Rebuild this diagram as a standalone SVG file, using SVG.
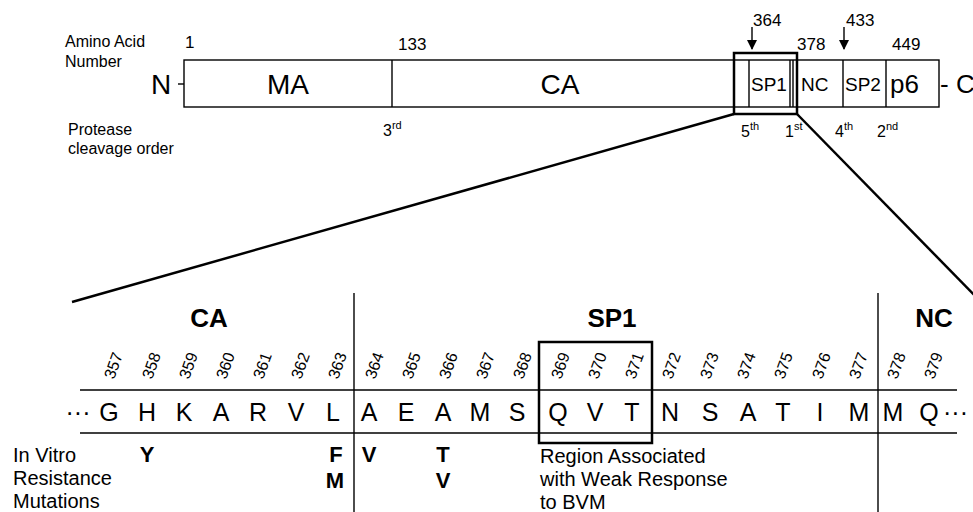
<svg xmlns="http://www.w3.org/2000/svg" width="973" height="512" viewBox="0 0 973 512">
<style>
text{font-family:"Liberation Sans",Arial,sans-serif;fill:#000}
.lbl{font-size:16px}
.big{font-size:28px}
.dom{font-size:19px}
.num{font-size:17px}
.ord{font-size:16px}
.sup{font-size:11px}
.seq{font-size:25px;text-anchor:middle}
.rn{font-size:16px}
.mut{font-size:22px;font-weight:bold;text-anchor:middle}
.hd{font-size:26px;font-weight:bold;text-anchor:middle}
.note{font-size:20px}
.ln{stroke:#000;stroke-width:1.4;fill:none}
.thick{stroke:#000;stroke-width:2.5;fill:none}
</style>
<defs>
<marker id="ah" viewBox="0 0 10 10" refX="9" refY="5" markerWidth="10" markerHeight="10" orient="auto" markerUnits="userSpaceOnUse"><path d="M0,0 L10,5 L0,10 z" fill="#000"/></marker>
</defs>
<rect width="973" height="512" fill="#fff"/>

<g id="labels-top">
<text class="lbl" x="65" y="47">Amino Acid</text>
<text class="lbl" x="65" y="67">Number</text>
<text class="lbl" x="68" y="135">Protease</text>
<text class="lbl" x="68" y="154">cleavage order</text>
</g>

<g id="gag-bar">
<rect class="ln" x="184" y="60" width="755" height="47"/>
<line class="ln" x1="392" y1="60" x2="392" y2="107"/>
<line class="ln" x1="749" y1="60" x2="749" y2="107"/>
<line class="ln" x1="790" y1="60" x2="790" y2="107"/>
<line class="ln" x1="793" y1="60" x2="793" y2="107"/>
<line class="ln" x1="843" y1="60" x2="843" y2="107"/>
<line class="ln" x1="886" y1="60" x2="886" y2="107"/>
<rect class="thick" x="734" y="53" width="63" height="61"/>
<text class="big" x="151" y="94">N</text>
<line class="ln" x1="178" y1="84" x2="184" y2="84"/>
<text class="big" x="288" y="94" text-anchor="middle">MA</text>
<text class="big" x="560" y="94" text-anchor="middle">CA</text>
<text class="dom" x="751" y="91">SP1</text>
<text class="dom" x="801" y="91">NC</text>
<text class="dom" x="845" y="91">SP2</text>
<text class="big" x="890" y="93" style="font-size:26px">p6</text>
<text class="big" x="940" y="93" style="font-size:26px">- C</text>
</g>

<g id="numbers-top">
<text class="num" x="185" y="48">1</text>
<text class="num" x="398" y="50">133</text>
<text class="num" x="753" y="26">364</text>
<text class="num" x="797" y="50">378</text>
<text class="num" x="846" y="26">433</text>
<text class="num" x="892" y="50">449</text>
<line class="ln" x1="752" y1="27" x2="752" y2="49" marker-end="url(#ah)"/>
<line class="ln" x1="844" y1="27" x2="844" y2="49" marker-end="url(#ah)"/>
</g>

<g id="cleavage-order" class="ord">
<text x="383" y="136">3<tspan class="sup" dy="-7">rd</tspan></text>
<text x="741" y="137">5<tspan class="sup" dy="-7">th</tspan></text>
<text x="785" y="137">1<tspan class="sup" dy="-7">st</tspan></text>
<text x="835" y="137">4<tspan class="sup" dy="-7">th</tspan></text>
<text x="877" y="137">2<tspan class="sup" dy="-7">nd</tspan></text>
</g>

<g id="connectors">
<line class="thick" x1="734" y1="114" x2="72" y2="302"/>
<line class="thick" x1="797" y1="114" x2="985" y2="306"/>
</g>

<g id="sequence">
<line class="ln" x1="80" y1="390" x2="957" y2="390"/>
<line class="ln" x1="80" y1="433" x2="957" y2="433"/>
<line class="ln" x1="354" y1="293" x2="354" y2="512"/>
<line class="ln" x1="878" y1="293" x2="878" y2="512"/>
<rect class="thick" x="539" y="342" width="113" height="101"/>
<text class="hd" x="209" y="327">CA</text>
<text class="hd" x="612" y="327">SP1</text>
<text class="hd" x="934" y="327">NC</text>
<text class="seq" x="78" y="421">···</text>
<text class="seq" x="109" y="421">G</text>
<text class="seq" x="147" y="421">H</text>
<text class="seq" x="184" y="421">K</text>
<text class="seq" x="221" y="421">A</text>
<text class="seq" x="258" y="421">R</text>
<text class="seq" x="296" y="421">V</text>
<text class="seq" x="333" y="421">L</text>
<text class="seq" x="369" y="421">A</text>
<text class="seq" x="406" y="421">E</text>
<text class="seq" x="443" y="421">A</text>
<text class="seq" x="480" y="421">M</text>
<text class="seq" x="517" y="421">S</text>
<text class="seq" x="558" y="421">Q</text>
<text class="seq" x="595" y="421">V</text>
<text class="seq" x="632" y="421">T</text>
<text class="seq" x="670" y="421">N</text>
<text class="seq" x="710" y="421">S</text>
<text class="seq" x="748" y="421">A</text>
<text class="seq" x="783" y="421">T</text>
<text class="seq" x="820" y="421">I</text>
<text class="seq" x="859" y="421">M</text>
<text class="seq" x="893" y="421">M</text>
<text class="seq" x="929" y="421">Q</text>
<text x="943" y="421" style="font-size:25px">···</text>
</g>

<g id="residue-numbers" class="rn">
<text transform="translate(114,380) rotate(-70)">357</text>
<text transform="translate(152,380) rotate(-70)">358</text>
<text transform="translate(189,380) rotate(-70)">359</text>
<text transform="translate(226,380) rotate(-70)">360</text>
<text transform="translate(263,380) rotate(-70)">361</text>
<text transform="translate(301,380) rotate(-70)">362</text>
<text transform="translate(338,380) rotate(-70)">363</text>
<text transform="translate(375,380) rotate(-70)">364</text>
<text transform="translate(412,380) rotate(-70)">365</text>
<text transform="translate(449,380) rotate(-70)">366</text>
<text transform="translate(486,380) rotate(-70)">367</text>
<text transform="translate(523,380) rotate(-70)">368</text>
<text transform="translate(561,380) rotate(-70)">369</text>
<text transform="translate(598,380) rotate(-70)">370</text>
<text transform="translate(635,380) rotate(-70)">371</text>
<text transform="translate(672,380) rotate(-70)">372</text>
<text transform="translate(710,380) rotate(-70)">373</text>
<text transform="translate(747,380) rotate(-70)">374</text>
<text transform="translate(784,380) rotate(-70)">375</text>
<text transform="translate(822,380) rotate(-70)">376</text>
<text transform="translate(859,380) rotate(-70)">377</text>
<text transform="translate(897,380) rotate(-70)">378</text>
<text transform="translate(934,380) rotate(-70)">379</text>
</g>

<g id="mutations">
<text class="note" x="13" y="462">In Vitro</text>
<text class="note" x="13" y="485">Resistance</text>
<text class="note" x="13" y="508">Mutations</text>
<text class="mut" x="147" y="462">Y</text>
<text class="mut" x="336" y="462">F</text>
<text class="mut" x="335" y="488">M</text>
<text class="mut" x="369" y="462">V</text>
<text class="mut" x="443" y="462">T</text>
<text class="mut" x="443" y="488">V</text>
</g>

<g id="bvm-note">
<text class="note" x="540" y="463">Region Associated</text>
<text class="note" x="540" y="486">with Weak Response</text>
<text class="note" x="540" y="509">to BVM</text>
</g>
</svg>
